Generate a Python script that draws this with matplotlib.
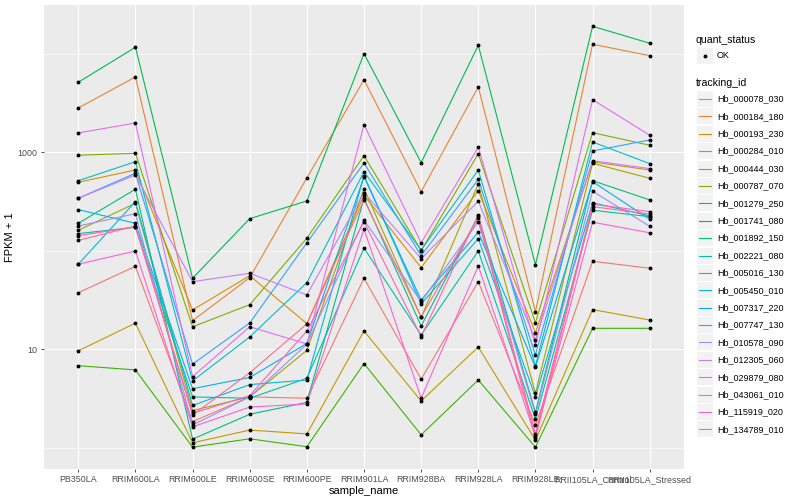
import matplotlib
matplotlib.use("Agg")
import matplotlib.pyplot as plt
from matplotlib.lines import Line2D
from matplotlib.patches import Rectangle

plt.rcParams["font.family"] = ["Liberation Sans", "DejaVu Sans"]

# ── data (FPKM + 1) ──────────────────────────────────────────────────────
samples = ["PB350LA", "RRIM600LA", "RRIM600LE", "RRIM600SE", "RRIM600PE",
           "RRIM901LA", "RRIM928BA", "RRIM928LA", "RRIM928LE",
           "RRII105LA_Control", "RRII105LA_Stressed"]

tracking_ids = ["Hb_000078_030", "Hb_000184_180", "Hb_000193_230", "Hb_000284_010",
                "Hb_000444_030", "Hb_000787_070", "Hb_001279_250", "Hb_001741_080",
                "Hb_001892_150", "Hb_002221_080", "Hb_005016_130", "Hb_005450_010",
                "Hb_007317_220", "Hb_007747_130", "Hb_010578_090", "Hb_012305_060",
                "Hb_029879_080", "Hb_043061_010", "Hb_115919_020", "Hb_134789_010"]

hb_000078_030 = [37.7, 69.9, 1.85, 3.3, 3.2, 52.8, 5.0, 48.8, 1.71, 78.6, 66.8]
hb_000184_180 = [2830, 5840, 19.6, 53.6, 551, 5480, 400, 4620, 24.2, 12550, 9610]
hb_000193_230 = [498, 664, 25.2, 56.1, 18.3, 368, 67.7, 410, 14.8, 801, 664]
hb_000284_010 = [9.7, 18.5, 1.13, 1.52, 1.39, 15.4, 3.0, 10.6, 1.2, 25.4, 19.9]
hb_000444_030 = [162, 305, 2.4, 3.3, 9.8, 429, 21.2, 479, 3.6, 777, 547]
hb_000787_070 = [937, 981, 17.0, 28.5, 135, 928, 101, 972, 18.7, 1589, 1183]
hb_001279_250 = [6.85, 6.2, 1.02, 1.24, 1.03, 7.2, 1.36, 4.9, 1.02, 16.4, 16.4]
hb_001741_080 = [5160, 11700, 52.8, 213, 322, 10070, 788, 12250, 72.6, 19100, 12850]
hb_001892_150 = [191, 423, 1.23, 2.2, 2.9, 343, 17.3, 228, 2.3, 517, 330]
hb_002221_080 = [150, 174, 3.3, 3.2, 5.1, 107, 14.0, 100, 1.96, 259, 223]
hb_005016_130 = [517, 806, 4.8, 13.4, 47.7, 638, 102, 664, 6.8, 1278, 770]
hb_005450_010 = [73.3, 317, 2.7, 4.4, 4.9, 581, 29.0, 133, 3.3, 309, 227]
hb_007317_220 = [263, 191, 4.0, 5.2, 11.5, 568, 31.8, 155, 6.6, 505, 210]
hb_007747_130 = [343, 615, 7.1, 18.6, 121, 782, 89.6, 534, 8.8, 1036, 1339]
hb_010578_090 = [179, 239, 1.71, 3.3, 11.3, 206, 30.6, 198, 2.2, 404, 178]
hb_012305_060 = [343, 591, 48.8, 59.4, 35.8, 391, 83.5, 320, 12.5, 826, 685]
hb_029879_080 = [1580, 1990, 5.3, 17.0, 11.4, 1915, 121, 1130, 11.1, 3436, 1495]
hb_043061_010 = [73.3, 100, 1.64, 2.6, 2.8, 167, 3.2, 70.4, 1.32, 196, 153]
hb_115919_020 = [143, 176, 2.25, 3.4, 15.4, 198, 13.5, 232, 1.39, 298, 251]
hb_134789_010 = [128, 179, 2.16, 5.8, 18.2, 330, 21.4, 216, 1.25, 282, 237]

series = [hb_000078_030, hb_000184_180, hb_000193_230, hb_000284_010,
          hb_000444_030, hb_000787_070, hb_001279_250, hb_001741_080,
          hb_001892_150, hb_002221_080, hb_005016_130, hb_005450_010,
          hb_007317_220, hb_007747_130, hb_010578_090, hb_012305_060,
          hb_029879_080, hb_043061_010, hb_115919_020, hb_134789_010]

# ggplot default hue palette for 20 levels
colors = ["#F8766D", "#EA8331", "#D89000", "#C09B00", "#A3A500", "#7CAE00",
          "#39B600", "#00BB4E", "#00BF7D", "#00C1A3", "#00BFC4", "#00BAE0",
          "#00B0F6", "#35A2FF", "#9590FF", "#C77CFF", "#E76BF3", "#FA62DB",
          "#FF62BC", "#FF6C91"]

W, H = 800, 500
fig = plt.figure(figsize=(W / 100, H / 100), dpi=100)
ax = fig.add_axes([44 / W, 1 - 469 / H, 640 / W, 464 / H])
ax.set_facecolor("#EBEBEB")

x = list(range(len(samples)))
for vals, col in zip(series, colors):
    ax.plot(x, vals, color=col, lw=0.8, zorder=3)
for vals in series:
    ax.plot(x, vals, "o", color="black", ms=2.8, mec="none", zorder=4)

# ── axes styling (ggplot grey theme) ──────────────────────────────────────
ax.set_yscale("log")
ax.set_ylim(0.612, 31400)
ax.set_xlim(-0.6, len(samples) - 0.4)
ax.set_xticks(x)
ax.set_xticklabels(samples, fontsize=6.4, color="#4D4D4D")
ax.set_yticks([10, 1000])
ax.set_yticklabels(["10", "1000"], fontsize=6.4, color="#4D4D4D")
ax.set_yticks([1, 100, 10000], minor=True)
ax.yaxis.set_minor_formatter(plt.NullFormatter())
ax.tick_params(axis="both", which="major", length=2.5, width=0.6, color="#333333", pad=2)
ax.tick_params(axis="y", which="minor", length=0)
ax.grid(True, which="major", color="white", lw=0.8, zorder=0)
ax.grid(True, which="minor", axis="y", color="white", lw=0.4, zorder=0)
ax.set_axisbelow(True)
for s in ax.spines.values():
    s.set_visible(False)
ax.set_xlabel("sample_name", fontsize=8, labelpad=1)
ax.set_ylabel("FPKM + 1", fontsize=8, labelpad=2)

# ── legend drawn in pixel coordinates ─────────────────────────────────────
def fx(px):
    return px / W

def fy(py):
    return 1 - py / H

fig.text(fx(696), fy(40), "quant_status", fontsize=7.6, va="center", ha="left")
fig.add_artist(Rectangle((fx(697), fy(64)), 16 / W, 16 / H, transform=fig.transFigure,
                         facecolor="#F2F2F2", edgecolor="none"))
fig.add_artist(Line2D([fx(705)], [fy(56)], marker="o", ms=2.8, color="black",
                      mec="none", transform=fig.transFigure))
fig.text(fx(717), fy(56), "OK", fontsize=6.5, va="center", ha="left")

fig.text(fx(696), fy(82.5), "tracking_id", fontsize=7.6, va="center", ha="left")
for i, (name, col) in enumerate(zip(tracking_ids, colors)):
    yc = 99 + i * 17.39
    fig.add_artist(Rectangle((fx(697), fy(yc + 8)), 16 / W, 16 / H,
                             transform=fig.transFigure, facecolor="#F2F2F2",
                             edgecolor="none"))
    fig.add_artist(Line2D([fx(699), fx(711)], [fy(yc), fy(yc)], color=col, lw=0.8,
                          transform=fig.transFigure))
    fig.text(fx(717), fy(yc), name, fontsize=6.5, va="center", ha="left")

fig.savefig("out.png", dpi=100)
